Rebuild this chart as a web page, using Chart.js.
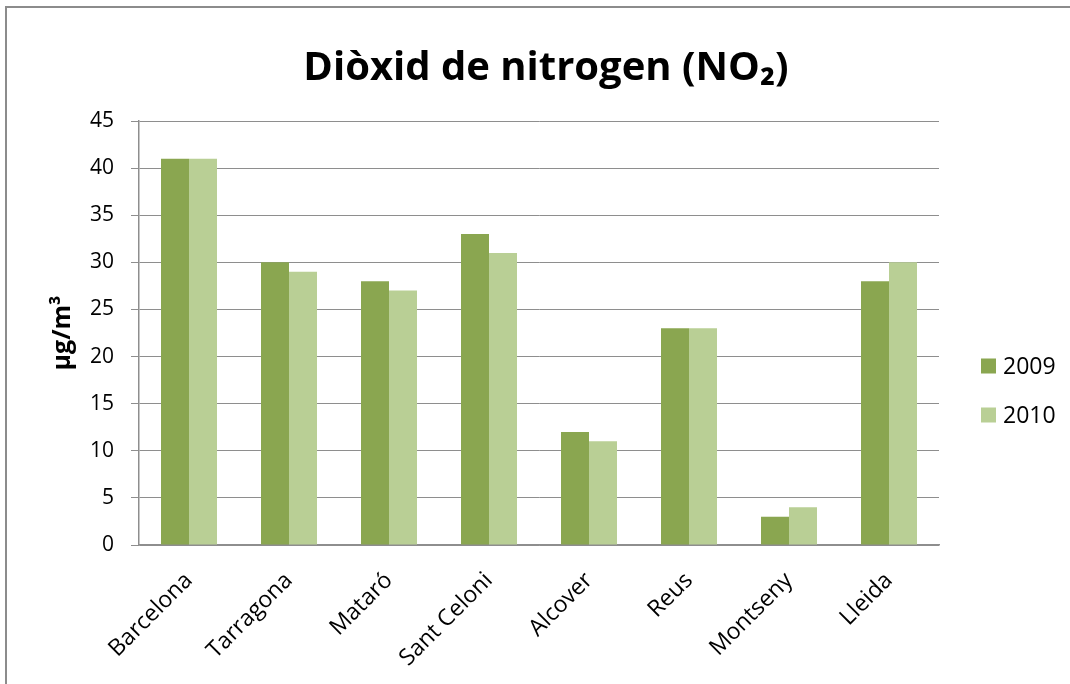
<!DOCTYPE html>
<html>
<head>
<meta charset="utf-8">
<script src="https://cdn.jsdelivr.net/npm/chart.js@4/dist/chart.umd.min.js"></script>
<style>
  html, body { margin: 0; padding: 0; background: #fff; overflow: hidden; }
</style>
</head>
<body>
<canvas id="c" width="1070" height="684"></canvas>
<script>
const cities = ['Barcelona', 'Tarragona', 'Mataró', 'Sant Celoni', 'Alcover', 'Reus', 'Montseny', 'Lleida'];
const years  = ['2009', '2010'];
const no2_2009 = [41, 30, 28, 33, 12, 23, 3, 28];
const no2_2010 = [41, 29, 27, 31, 11, 23, 4, 30];
const yMax = 45;
const yStep = 5;
const titleText = 'Diòxid de nitrogen (NO₂)';

const C = {
  dark:  '#8aa650',
  light: '#b9cf95',
  grid:  '#8e8e8e',
  text:  '#000',
};
const FONT = '"Open Sans", "DejaVu Sans", sans-serif';

// Rahmen + Titel über die ganze Breite
const frame = {
  id: 'frame',
  beforeDraw(chart) {
    const ctx = chart.ctx;
    ctx.save();
    ctx.strokeStyle = '#8c8c8c';
    ctx.lineWidth = 2;
    ctx.strokeRect(6, 7, 1100, 700);
    ctx.fillStyle = C.text;
    ctx.font = 'bold 40px ' + FONT;
    ctx.textAlign = 'center';
    ctx.textBaseline = 'alphabetic';
    ctx.fillText(titleText, 546, 80);
    ctx.restore();
  },
};

// Legende rechts, Quadrate wie in Excel
const sideLegend = {
  id: 'sideLegend',
  afterDraw(chart) {
    const ctx = chart.ctx;
    ctx.save();
    ctx.font = '23px ' + FONT;
    ctx.textBaseline = 'middle';
    chart.data.datasets.forEach((ds, i) => {
      const cy = 366 + i * 49;
      ctx.fillStyle = ds.backgroundColor;
      ctx.fillRect(981, cy - 7.5, 15, 15);
      ctx.fillStyle = C.text;
      ctx.fillText(ds.label, 1003, cy + 1);
    });
    ctx.restore();
  },
};

new Chart(document.getElementById('c'), {
  type: 'bar',
  data: {
    labels: cities,
    datasets: [
      { label: years[0], data: no2_2009, backgroundColor: C.dark },
      { label: years[1], data: no2_2010, backgroundColor: C.light },
    ],
  },
  options: {
    responsive: false,
    animation: false,
    devicePixelRatio: 1,
    categoryPercentage: 0.56,
    barPercentage: 1.0,
    layout: { padding: { left: 0, right: 131, top: 121, bottom: 0 } },
    plugins: {
      legend: { display: false },
      tooltip: { enabled: false },
      title: { display: false },
    },
    scales: {
      x: {
        grid: { display: false },
        border: { color: C.grid, width: 1.5 },
        ticks: {
          color: C.text,
          font: { family: FONT, size: 23 },
          minRotation: 45,
          maxRotation: 45,
          padding: 14,
        },
        afterFit: s => { s.height = 139; },
      },
      y: {
        min: 0,
        max: yMax,
        grid: { color: C.grid, lineWidth: 1, tickLength: 8 },
        border: { color: C.grid, width: 1.5 },
        ticks: {
          stepSize: yStep,
          color: C.text,
          font: { family: FONT, size: 21 },
          padding: 17,
        },
        title: {
          display: true,
          text: 'µg/m³',
          color: C.text,
          font: { family: FONT, size: 25, weight: 'bold' },
          padding: { top: 48, bottom: 0 },
        },
        afterFit: s => { s.width = 139; },
      },
    },
  },
  plugins: [frame, sideLegend],
});
</script>
</body>
</html>
